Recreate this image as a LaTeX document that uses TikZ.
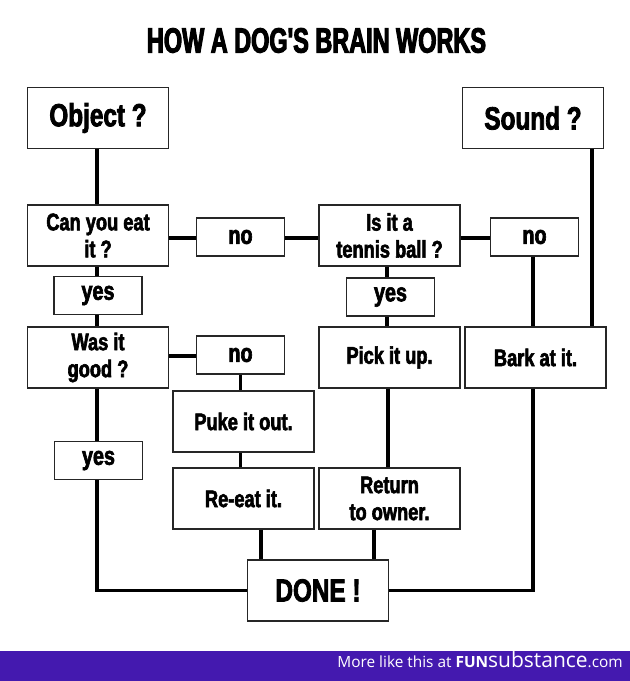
\documentclass[tikz,border=0pt]{standalone}
\usepackage{fontspec}
\setmainfont{Liberation Sans}
\newfontfamily\imp{Liberation Sans}[FakeStretch=0.76,FakeBold=2.5]
\newfontfamily\impt{Liberation Sans}[FakeStretch=0.67,FakeBold=3]
\newfontfamily\osans{Open Sans}
\usetikzlibrary{calc}
\definecolor{barpurple}{RGB}{68,25,175}
\begin{document}
\begin{tikzpicture}[x=1pt,y=-1pt,
  box/.style={draw=black!85, line width=1.4pt, fill=white, minimum width=141pt, minimum height=61pt,
    inner sep=0pt, align=center, font=\imp\bfseries\fontsize{24}{27}\selectfont},
  bigbox/.style={box, font=\imp\bfseries\fontsize{32}{36}\selectfont},
  lbl/.style={box, minimum width=88pt, minimum height=38pt, font=\imp\bfseries\fontsize{26}{28}\selectfont},
  conn/.style={line width=3.5pt, black}]
\useasboundingbox (0,0) rectangle (630,681);
\fill[white] (0,0) rectangle (630,681);
% title
\node[font=\impt\bfseries\fontsize{35}{40}\selectfont, inner sep=0pt] (title) at (316.5,40.5) {HOW A DOG'S BRAIN WORKS};
% nodes
\node[bigbox] (obj) at (98,118) {Object ?};
\node[bigbox] (snd) at (533,118) {Sound ?};
\node[box] (can) at (98,235.5) {Can you eat\\it ?};
\node[lbl] (no1) at (240.5,237) {no};
\node[box] (ten) at (389.5,235.5) {Is it a\\tennis ball ?};
\node[lbl] (no3) at (534.5,237) {no};
\node[lbl] (yes1) at (98,295.5) {yes};
\node[lbl] (yes2) at (390.5,297) {yes};
\node[box] (was) at (98,357.5) {Was it\\good ?};
\node[lbl] (no2) at (240.5,355) {no};
\node[box] (pick) at (389.5,357.5) {Pick it up.};
\node[box] (bark) at (535.5,357.5) {Bark at it.};
\node[box] (puke) at (243.5,421.5) {Puke it out.};
\node[lbl] (yes3) at (98.5,460.5) {yes};
\node[box] (reeat) at (243.5,498.5) {Re-eat it.};
\node[box] (ret) at (389.5,498.5) {Return\\to owner.};
\node[bigbox] (done) at (318,590.5) {DONE !};
% connectors
\draw[conn] ([xshift=-1pt]obj.south) -- ([xshift=-1pt]can.north);
\draw[conn] ([xshift=-1pt]can.south) -- ([xshift=-1pt]yes1.north);
\draw[conn] ([xshift=-1pt]yes1.south) -- ([xshift=-1pt]was.north);
\draw[conn] ([xshift=-1pt]was.south) -- ([xshift=-1.5pt]yes3.north);
\draw[conn] ([xshift=-1.5pt]yes3.south) |- (done.west);
\draw[conn] ([yshift=-1pt]no1.west -| can.east) -- ([yshift=-1pt]no1.west);
\draw[conn] ([yshift=-1pt]no1.east) -- ([yshift=-1pt]no1.east -| ten.west);
\draw[conn] ([yshift=-1pt]no3.west -| ten.east) -- ([yshift=-1pt]no3.west);
\draw[conn] ([xshift=-1.5pt]no3.south) -- ([xshift=-1.5pt]no3.south |- bark.north);
\draw[conn] ([xshift=59pt]snd.south) -- ([xshift=59pt]snd.south |- bark.north);
\draw[conn] ([xshift=-2.5pt]bark.south) |- (done.east);
\draw[conn] ([yshift=-1pt]no2.west -| was.east) -- ([yshift=-1pt]no2.west);
\draw[conn] (no2.south) -- (no2.south |- puke.north);
\draw[conn] ([xshift=-3pt]puke.south) -- ([xshift=-3pt]reeat.north);
\draw[conn] ([xshift=17.5pt]reeat.south) -- ([xshift=17.5pt]reeat.south |- done.north);
\draw[conn] ([xshift=-15.5pt]ret.south) -- ([xshift=-15.5pt]ret.south |- done.north);
\draw[conn] ([xshift=-2.5pt]ten.south) -- ([xshift=-2.5pt]ten.south |- yes2.north);
\draw[conn] ([xshift=-3.5pt]yes2.south) -- ([xshift=-3.5pt]yes2.south |- pick.north);
\draw[conn] ([xshift=-1.5pt]pick.south) -- ([xshift=-1.5pt]pick.south |- ret.north);
% footer
\fill[barpurple] (0,651) rectangle (630,681);
\node[anchor=base east, text=white, inner sep=0pt] (foot) at (623,667)
  {\osans\fontsize{15.4}{15.4}\selectfont More like this at \textbf{FUN}\fontsize{21}{21}\selectfont substance\fontsize{15.4}{15.4}\selectfont .com};
\end{tikzpicture}
\end{document}
